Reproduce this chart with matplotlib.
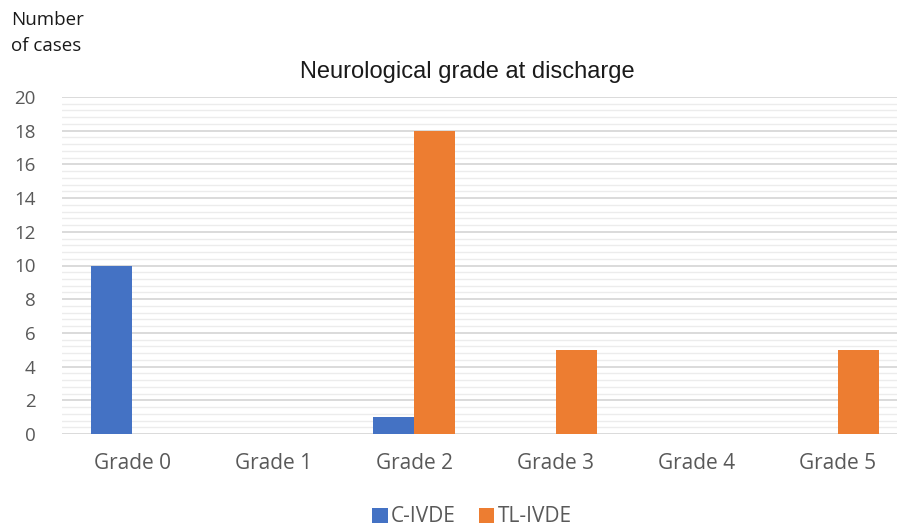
import matplotlib.pyplot as plt
import numpy as np
from matplotlib.ticker import MultipleLocator

grades = ["Grade 0", "Grade 1", "Grade 2", "Grade 3", "Grade 4", "Grade 5"]
c_ivde = [10, 0, 1, 0, 0, 0]
tl_ivde = [0, 0, 18, 5, 0, 5]

plt.rcParams["font.family"] = ["Open Sans", "DejaVu Sans"]

W, H = 897, 528
fig = plt.figure(figsize=(W / 100, H / 100), dpi=100)
# plot area runs a little past the right edge of the figure
ax = fig.add_axes([61.5 / W, 1 - 434 / H, 847 / W, 337 / H])

x = np.arange(len(grades))
w = 0.29
ax.bar(x - w / 2, c_ivde, w, color="#4472C4", label="C-IVDE", zorder=3)
ax.bar(x + w / 2, tl_ivde, w, color="#ED7D31", label="TL-IVDE", zorder=3)

ax.set_xlim(-0.5, 5.5)
ax.set_ylim(0, 20)
ax.yaxis.set_major_locator(MultipleLocator(2))
ax.yaxis.set_minor_locator(MultipleLocator(0.4))
ax.grid(axis="y", which="major", color="#d4d4d4", linewidth=1.2, zorder=0)
ax.grid(axis="y", which="minor", color="#ececec", linewidth=1.0, zorder=0)
for s in ax.spines.values():
    s.set_visible(False)
ax.tick_params(axis="both", which="both", length=0)
ax.tick_params(axis="y", pad=18.5, labelsize=13.5, labelcolor="#595959")
ax.tick_params(axis="x", pad=14, labelsize=15, labelcolor="#595959")
ax.set_xticks(x)
ax.set_xticklabels(grades)

fig.text(467 / W, 1 - 72 / H, "Neurological grade at discharge", ha="center", va="center",
         fontsize=17, family="Liberation Sans", color="#1a1a1a")
fig.text(11 / W, 1 - 11 / H, "Number\nof cases", ha="left", va="top",
         fontsize=13.5, color="#1a1a1a", linespacing=1.55)

fig.legend(loc="center", bbox_to_anchor=(472 / W, 1 - 517 / H), ncol=2, frameon=False,
           fontsize=15, handlelength=0.75, handleheight=0.75, handletextpad=0.15,
           columnspacing=1.1, labelcolor="#595959")

fig.savefig("out.png", dpi=100)
